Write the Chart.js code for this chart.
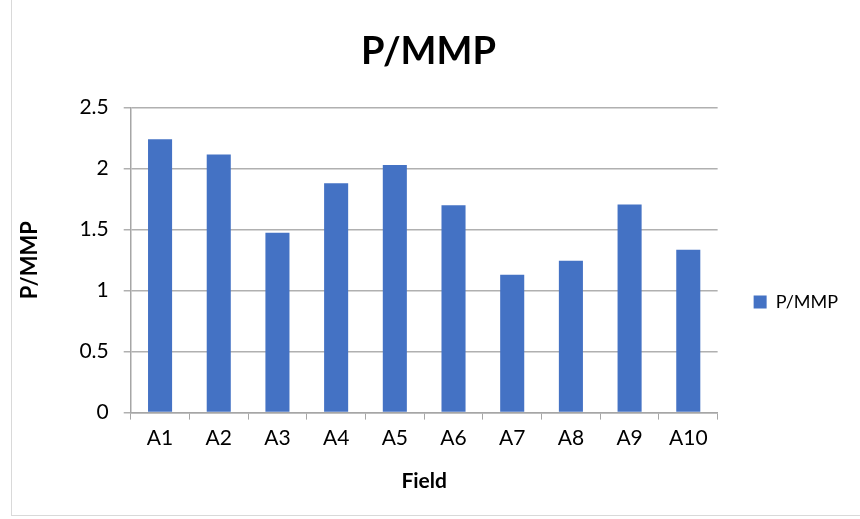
<!DOCTYPE html>
<html>
<head>
<meta charset="utf-8">
<script src="https://cdn.jsdelivr.net/npm/chart.js@4"></script>
<style>
  html, body { margin: 0; padding: 0; background: #fff; }
  #wrap { position: relative; width: 860px; height: 519px; }
  #frame { position: absolute; left: 11px; top: -2px; width: 860px; height: 518px; border: 1px solid #d9d9d9; box-sizing: border-box; }
  canvas { position: absolute; left: 0; top: 0; }
</style>
</head>
<body>
<div id="wrap">
  <div id="frame"></div>
  <canvas id="chart" width="860" height="519"></canvas>
</div>
<script>
// dữ liệu biểu đồ
const fields = ['A1', 'A2', 'A3', 'A4', 'A5', 'A6', 'A7', 'A8', 'A9', 'A10'];
const pmmp = [2.24, 2.115, 1.475, 1.88, 2.03, 1.70, 1.13, 1.245, 1.705, 1.335];
const yTicks = [0, 0.5, 1, 1.5, 2, 2.5];

const font = 'Lato';

// đẩy chú thích xuống dưới và sang phải một chút như bản gốc
const legendShift = {
    id: 'legendShift',
    afterLayout(chart) {
        const lg = chart.legend;
        if (!lg) return;
        lg.top += 42; lg.bottom += 42;
        lg.left += 8; lg.right += 8;
    }
};

new Chart(document.getElementById('chart'), {
    type: 'bar',
    data: {
        labels: fields,
        datasets: [{
            label: 'P/MMP',
            data: pmmp,
            backgroundColor: '#4472C4',
            borderWidth: 0,
            barPercentage: 0.41,
            categoryPercentage: 1
        }]
    },
    options: {
        responsive: false,
        animation: false,
        layout: { padding: { top: 22, right: 20, bottom: 21, left: 17 } },
        plugins: {
            title: {
                display: true,
                text: 'P/MMP',
                color: '#000',
                font: { family: font, size: 38, weight: 'bold' },
                padding: { top: 7, bottom: 33 }
            },
            legend: {
                position: 'right',
                labels: {
                    color: '#000',
                    font: { family: font, size: 18 },
                    boxWidth: 13,
                    boxHeight: 13,
                    padding: 28
                }
            },
            tooltip: { enabled: false }
        },
        scales: {
            x: {
                grid: {
                    drawOnChartArea: false,
                    drawTicks: true,
                    tickLength: 7,
                    color: '#a6a6a6'
                },
                border: { color: '#a6a6a6', width: 1.5 },
                ticks: { color: '#000', font: { family: font, size: 21 }, padding: 6 },
                title: {
                    display: true,
                    text: 'Field',
                    color: '#000',
                    font: { family: font, size: 21, weight: 'bold' },
                    padding: { top: 12 }
                }
            },
            y: {
                min: 0,
                max: 2.5,
                afterBuildTicks: axis => { axis.ticks = yTicks.map(v => ({ value: v })); },
                grid: { color: '#b0b0b0', lineWidth: 1.5, tickLength: 7 },
                border: { color: '#a6a6a6', width: 1.5 },
                ticks: {
                    color: '#000',
                    font: { family: font, size: 21 },
                    padding: 15,
                    callback: v => String(v)
                },
                title: {
                    display: true,
                    text: 'P/MMP',
                    color: '#000',
                    font: { family: font, size: 22, weight: 'bold' },
                    padding: { top: 0, bottom: 21 }
                }
            }
        }
    },
    plugins: [legendShift]
});
</script>
</body>
</html>
